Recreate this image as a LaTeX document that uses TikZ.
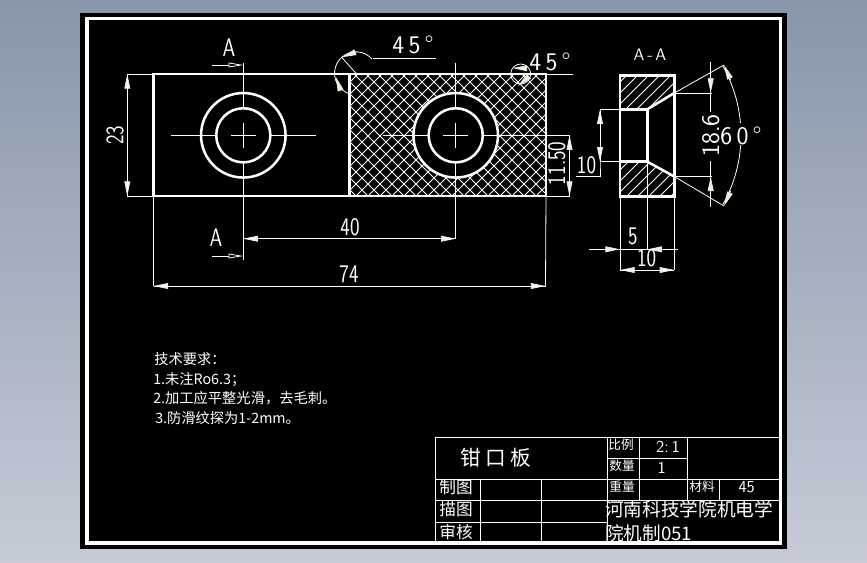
\documentclass[tikz,border=0pt]{standalone}
\usepackage{fontspec}
\usetikzlibrary{
  arrows.meta,
}
\newfontfamily\cjk{Noto Sans CJK SC}
\newcommand{\cadtxt}[1]{\scalebox{.8}[1]{#1}}
\definecolor{skytop}{RGB}{136,150,171}
\definecolor{skybot}{RGB}{198,203,214}
\definecolor{tipcol}{RGB}{238,238,225}
\tikzset{
  x=0.75pt, y=-0.75pt,
  solid tip/.tip={Triangle[length=11pt,width=4.4pt]},
  hollow tip/.tip={Triangle[open,length=11pt,width=3.6pt]},
  objline/.style={draw=white,line width=2.2pt},
  thinline/.style={draw=white,line width=0.6pt},
  hatchline/.style={draw=white,line width=0.62pt},
  arrowbit/.style={thinline,-solid tip,tipcol},
  dimlabel/.style={text=white,inner sep=0pt,font=\sffamily\fontsize{19}{19}\selectfont},
  smalllabel/.style={text=white,inner sep=0pt,font=\sffamily\fontsize{12.5}{13}\selectfont},
  cjklabel/.style={text=white,inner sep=0pt,font=\cjk\fontsize{#1}{#1}\selectfont},
}
\begin{document}
\begin{tikzpicture}
    % sheet
    \shade [top color=skytop,bottom color=skybot] (0,0) rectangle (867,562);
    \useasboundingbox (0,0) rectangle (867,562);
    \fill [black] (80,13) rectangle (787,549);
    \draw [draw=white,line width=2.3pt] (87,18.5) rectangle (780.5,543);
    % main view points
    \coordinate (mainNW) at (153.5,74);
    \coordinate (mainNE) at (546,74);
    \coordinate (mainSE) at (546,196);
    \coordinate (mainSW) at (153.5,196);
    \coordinate (midN) at (349.5,74);
    \coordinate (midS) at (349.5,196);
    \coordinate (holeL) at (243.3,135.3);
    \coordinate (holeR) at (455.7,135.3);
    % hatching of the right half
    \begin{scope}
      \clip (midN) rectangle (mainSE);
      \foreach \i in {200,212,...,680} {
        \draw [hatchline] (\i,196) -- ++(122,-122);
        \draw [hatchline] (\i,196) -- ++(-122,-122);
      }
    \end{scope}
    \fill [black] (holeR) circle [radius=31.7pt];
    % section view points
    \coordinate (secNW) at (620,75.3);
    \coordinate (secNE) at (674.3,75.3);
    \coordinate (coneT) at (674.3,93);
    \coordinate (boreT) at (647.3,109.3);
    \coordinate (secT) at (620,109.3);
    \coordinate (secB) at (620,161.7);
    \coordinate (boreB) at (647.3,161.7);
    \coordinate (coneB) at (674.3,176.5);
    \coordinate (secSE) at (674.3,196.7);
    \coordinate (secSW) at (620,196.7);
    \begin{scope}
      \clip (secNW) -- (secNE) -- (coneT) -- (boreT) -- (secT) -- cycle
            (secB) -- (boreB) -- (coneB) -- (secSE) -- (secSW) -- cycle;
      \foreach \i in {480,491,...,690} {
        \draw [hatchline] (\i,200) -- ++(130,-130);
      }
    \end{scope}
    % outlines
    \draw [objline] (mainNW) rectangle (mainSE);
    \draw [objline] (midN) -- (midS);
    \draw [objline,line width=1.9pt] (holeL) circle [radius=31.7pt];
    \draw [objline,line width=1.9pt] (holeL) circle [radius=20.3pt];
    \draw [objline,line width=1.9pt] (holeR) circle [radius=31.7pt];
    \draw [objline,line width=1.9pt] (holeR) circle [radius=20.3pt];
    \draw [objline,line width=1.9pt] (secNW) rectangle (secSE);
    \draw [objline,line width=1.9pt] (secT) -- (boreT) -- (boreB) -- (secB);
    \draw [objline,line width=1.9pt] (coneT) -- (boreT);
    \draw [objline,line width=1.9pt] (coneB) -- (boreB);
    % centre lines
    \coordinate (cutT) at (243.3,63);
    \coordinate (cutB) at (243.3,260);
    \coordinate (axisLa) at (171,135.3);
    \coordinate (axisLb) at (316,135.3);
    \coordinate (axisRa) at (383,135.3);
    \coordinate (ext115a) at (570,135.3);
    \coordinate (axisRt) at (455.7,63);
    \coordinate (dim40b) at (455.7,238.7);
    \coordinate (dim40a) at (243.3,238.7);
    \foreach \hole in {holeL,holeR} {
      \draw [thinline] ([xshift=-9.5pt]\hole) -- ([xshift=9.5pt]\hole);
      \draw [thinline] ([yshift=-9.5pt]\hole) -- ([yshift=9.5pt]\hole);
    }
    \draw [thinline] (axisLa) -- ([xshift=-20.3pt]holeL);
    \draw [thinline] ([xshift=20.3pt]holeL) -- (axisLb);
    \draw [thinline] (cutT) -- ([yshift=20.3pt]holeL);
    \draw [thinline] ([yshift=-20.3pt]holeL) -- (cutB);
    \draw [thinline] (axisRa) -- ([xshift=-20.3pt]holeR);
    \draw [thinline] ([xshift=20.3pt]holeR) -- (ext115a);
    \draw [thinline] (axisRt) -- ([yshift=20.3pt]holeR);
    \draw [thinline] ([yshift=-20.3pt]holeR) -- (dim40b);
    % section marks
    \coordinate (cutTa) at (212,65);
    \coordinate (cutTb) at (243.3,65);
    \coordinate (cutBa) at (212,256);
    \coordinate (cutBb) at (243.3,256);
    \draw [thinline,-hollow tip] (cutTa) -- (cutTb);
    \draw [thinline,-hollow tip] (cutBa) -- (cutBb);
    \node [dimlabel] (cutTlabel) at (229,48) {\cadtxt{A}};
    \node [dimlabel] (cutBlabel) at (216,238) {\cadtxt{A}};
    \node [smalllabel] (secTitle) at (650,55) {A\,-\,A};
    % dimension 23
    \coordinate (d23a) at (127.3,74);
    \coordinate (d23b) at (127.3,196);
    \draw [thinline] (mainNW) -- (d23a);
    \draw [thinline] (mainSW) -- (d23b);
    \draw [thinline,solid tip-solid tip,tipcol] (d23a) -- (d23b);
    \draw [thinline] (d23a) -- (d23b);
    \node [dimlabel,rotate=90] (d23label) at (115,135) {\cadtxt{23}};
    % dimension 40
    \draw [thinline,solid tip-solid tip,tipcol] (dim40a) -- (dim40b);
    \draw [thinline] (dim40a) -- (dim40b);
    \node [dimlabel] (d40label) at (350,227) {\cadtxt{40}};
    % dimension 74
    \coordinate (d74a) at (153.5,286);
    \coordinate (d74b) at (545.5,286);
    \draw [thinline] (mainSW) -- (d74a);
    \draw [thinline] (mainSE) -- (d74b);
    \draw [thinline,solid tip-solid tip,tipcol] (d74a) -- (d74b);
    \draw [thinline] (d74a) -- (d74b);
    \node [dimlabel] (d74label) at (349,274) {\cadtxt{74}};
    % dimension 11.50
    \coordinate (d115a) at (569.5,135.3);
    \coordinate (d115b) at (569.5,196);
    \draw [thinline] (mainSE) -- (d115b);
    \draw [thinline,solid tip-solid tip,tipcol] (d115a) -- (d115b);
    \draw [thinline] (d115a) -- (d115b);
    \node [dimlabel,rotate=90] (d115label) at (556.7,163.3) {\cadtxt{11.50}};
    % chamfers
    \coordinate (chamL) at (356,73.3);
    \coordinate (chamLa) at (341.7,57.3);
    \coordinate (chamLb) at (356.7,51.7);
    \coordinate (chamLc) at (335.7,76.7);
    \coordinate (chamLd) at (340.7,90.7);
    \coordinate (leadLa) at (373,58.3);
    \coordinate (leadLb) at (436,58.3);
    \draw [thinline] ([shift={(41:16.1pt)}]chamL) arc [start angle=41,end angle=255,radius=16.1pt];
    \draw [thinline] (chamL) -- (chamLa);
    \draw [thinline] (leadLa) -- (leadLb);
    \draw [arrowbit] (chamLb) -- (chamLa);
    \draw [arrowbit] (chamLd) -- (chamLc);
    \node [dimlabel] (chamLlabel) at (413,45) {4\,5\,°};
    \coordinate (chamR) at (520.7,74);
    \coordinate (chamRa) at (512.5,68);
    \coordinate (chamRb) at (527,68.3);
    \coordinate (chamRc) at (518,86);
    \coordinate (chamRd) at (527,78);
    \coordinate (leadRa) at (527,74);
    \coordinate (leadRb) at (572.7,74);
    \draw [thinline] (chamR) circle [radius=7.5pt];
    \draw [thinline] (leadRa) -- (leadRb);
    \draw [thinline,solid tip-,tipcol] (chamRa) -- (chamRb);
    \draw [thinline,solid tip-,tipcol] (chamRc) -- (chamRd);
    \node [dimlabel] (chamRlabel) at (550,62) {4\,5\,°};
    % dimension 10 of the bore
    \coordinate (d10a) at (600,109.3);
    \coordinate (d10b) at (600,161.7);
    \coordinate (d10c) at (600,176.7);
    \coordinate (d10d) at (576,176.7);
    \draw [thinline] (secT) -- (d10a);
    \draw [thinline] (secB) -- (d10b);
    \draw [thinline] (d10a) -- (d10b) -- (d10c) -- (d10d);
    \draw [thinline,solid tip-solid tip,tipcol] (d10a) -- (d10b);
    \draw [thinline] (d10a) -- (d10b);
    \node [dimlabel] (d10label) at (586.5,165.5) {\cadtxt{10}};
    % dimension 18.6
    \coordinate (d186a) at (710.7,62.3);
    \coordinate (d186b) at (710.7,112);
    \coordinate (d186c) at (710.7,161);
    \coordinate (d186d) at (710.7,206.7);
    \coordinate (d186e) at (710.7,78.3);
    \coordinate (d186f) at (710.7,93);
    \coordinate (d186g) at (710.7,191);
    \coordinate (d186h) at (710.7,176.5);
    \coordinate (d186i) at (712,93);
    \coordinate (d186j) at (712,176.5);
    \draw [thinline] (coneT) -- (d186i);
    \draw [thinline] (coneB) -- (d186j);
    \draw [thinline] (d186a) -- (d186b);
    \draw [thinline] (d186c) -- (d186d);
    \draw [arrowbit] (d186e) -- (d186f);
    \draw [arrowbit] (d186g) -- (d186h);
    \node [dimlabel,rotate=90] (d186label) at (710.7,135.5) {18.6};
    % angle 60
    \coordinate (apex) at (600,135.3);
    \coordinate (angTa) at (724,65);
    \coordinate (angTb) at (730.7,80);
    \coordinate (angBa) at (724,206);
    \coordinate (angBb) at (730.7,191);
    \draw [thinline] (coneT) -- (angTa);
    \draw [thinline] (coneB) -- (angBa);
    \draw [thinline] ([shift={(29.5:105.75pt)}]apex) arc [start angle=29.5,end angle=5,radius=105.75pt];
    \draw [thinline] ([shift={(-29.5:105.75pt)}]apex) arc [start angle=-29.5,end angle=-4,radius=105.75pt];
    \draw [arrowbit] (angTb) -- (angTa);
    \draw [arrowbit] (angBb) -- (angBa);
    \node [dimlabel] (angLabel) at (741,136) {6\,0\,°};
    % dimension 5
    \coordinate (d5a) at (620,249.3);
    \coordinate (d5b) at (647.3,249.3);
    \coordinate (d5c) at (589,249.3);
    \coordinate (d5d) at (677.7,249.3);
    \coordinate (d5e) at (604.3,249.3);
    \coordinate (d5f) at (662.7,249.3);
    \draw [thinline] (boreB) -- (d5b);
    \draw [thinline] (d5c) -- (d5d);
    \draw [arrowbit] (d5e) -- (d5a);
    \draw [arrowbit] (d5f) -- (d5b);
    \node [dimlabel] (d5label) at (633,236.7) {\cadtxt{5}};
    % dimension 10 of the width
    \coordinate (d10wa) at (620,270);
    \coordinate (d10wb) at (674.3,270);
    \draw [thinline] (secSW) -- (d10wa);
    \draw [thinline] (secSE) -- (d10wb);
    \draw [thinline,solid tip-solid tip,tipcol] (d10wa) -- (d10wb);
    \draw [thinline] (d10wa) -- (d10wb);
    \node [dimlabel] (d10wlabel) at (646.7,258) {\cadtxt{10}};
    % notes
    \node [cjklabel=10.7,anchor=west] (noteA) at (154,359) {技术要求\symbol{"FF1A}};
    \node [cjklabel=10.7,anchor=west] (noteB) at (153,380) {1.未注Ro6.3\symbol{"FF1B}};
    \node [cjklabel=10.7,anchor=west] (noteC) at (153,398) {2.加工应平整光滑\symbol{"FF0C}去毛刺。};
    \node [cjklabel=10.7,anchor=west] (noteD) at (155,418) {3.防滑纹探为1-2mm。};
    % title block
    \coordinate (tbNW) at (435.3,437.3);
    \coordinate (tbSE) at (780,541.7);
    \draw [thinline] (tbNW) -- (780,437.3);
    \draw [thinline] (tbNW) -- (435.3,541.7);
    \foreach \yy in {479.3,500.7} {
      \draw [thinline] (435.3,\yy) -- (780,\yy);
    }
    \draw [thinline] (435.3,522.7) -- (607.7,522.7);
    \draw [thinline] (607.7,458.3) -- (687.3,458.3);
    \draw [thinline] (607.7,437.3) -- (607.7,541.7);
    \draw [thinline] (480.7,479.3) -- (480.7,541.7);
    \draw [thinline] (541.7,479.3) -- (541.7,541.7);
    \draw [thinline] (639.3,437.3) -- (639.3,500.7);
    \draw [thinline] (687.3,437.3) -- (687.3,500.7);
    \draw [thinline] (719,479.3) -- (719,500.7);
    \node [cjklabel=15.5] (partName) at (496,457.7) {钳\hspace{.2em}口\hspace{.2em}板};
    \node [cjklabel=12.5] (drawn) at (456,487.3) {制图};
    \node [cjklabel=12.5] (traced) at (456,509) {描图};
    \node [cjklabel=12.5] (checked) at (456,531.7) {审核};
    \node [cjklabel=9.5] (ratio) at (621,445) {比例};
    \node [cjklabel=9.5] (count) at (622,466) {数量};
    \node [cjklabel=9.5] (weight) at (622,487) {重量};
    \node [cjklabel=9.5] (material) at (702,487) {材料};
    \node [smalllabel] (ratioVal) at (668,447) {2:\,1};
    \node [smalllabel] (countVal) at (661.7,468) {1};
    \node [smalllabel] (matVal) at (746.7,487.5) {45};
    \node [cjklabel=14,anchor=west] (schoolA) at (605,509) {河南科技学院机电学};
    \node [cjklabel=14,anchor=west] (schoolB) at (605,533) {院机制051};
\end{tikzpicture}
\end{document}
